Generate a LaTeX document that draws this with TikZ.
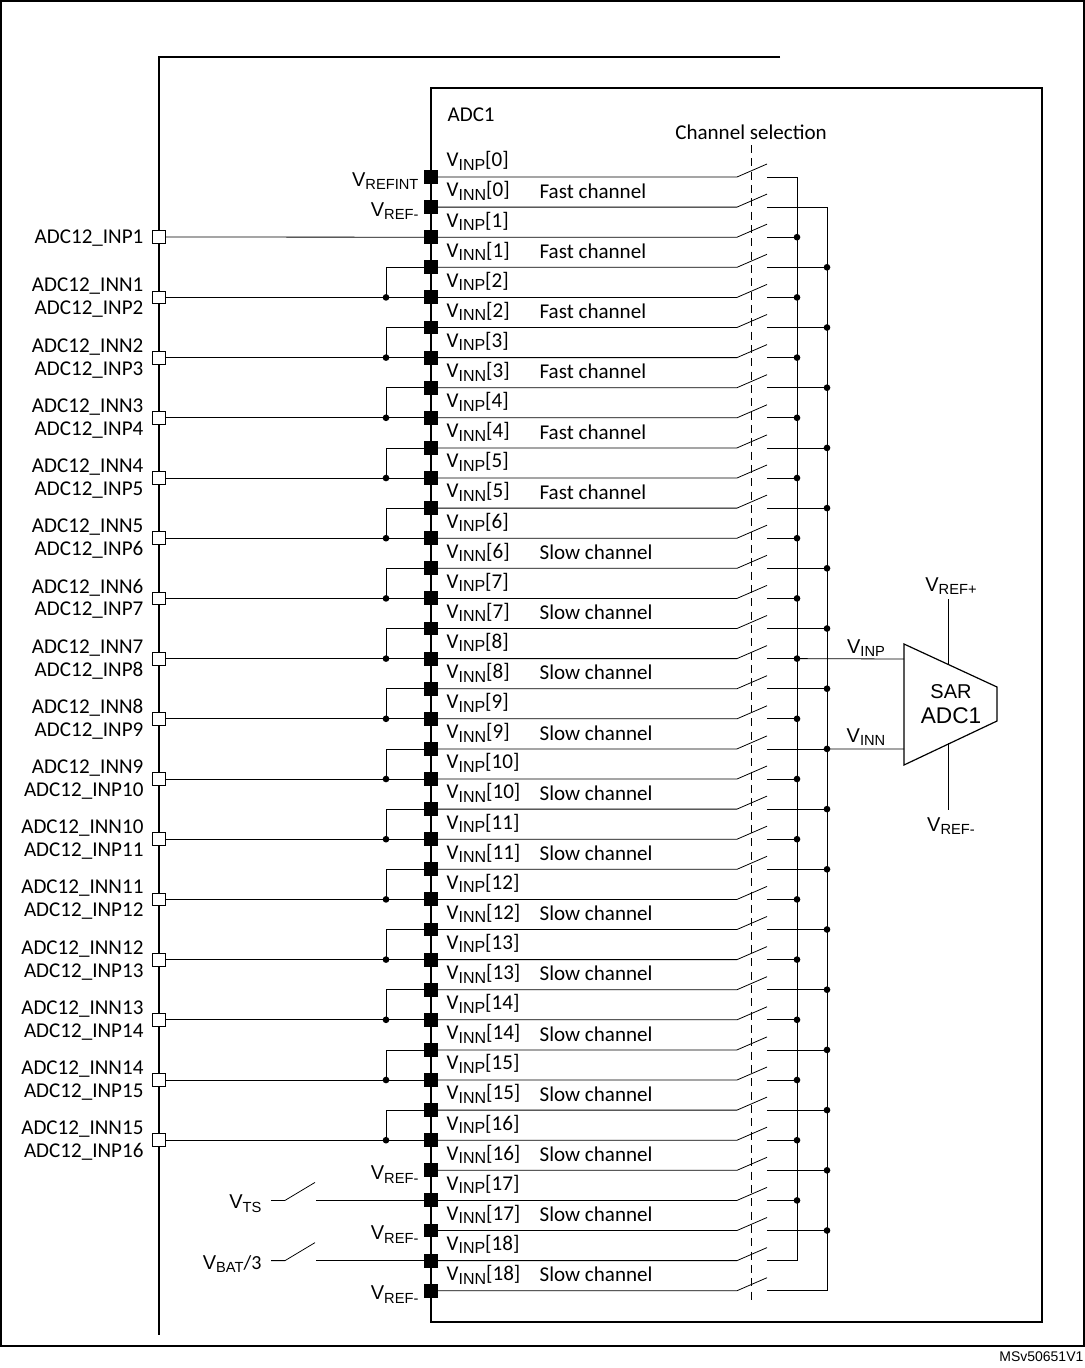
\documentclass[tikz,border=0pt]{standalone}
\usepackage{fontspec}
\setmainfont{Carlito}
\newfontfamily\arialf{Liberation Sans}
\newcommand{\Vs}[1]{V\raisebox{-0.35ex}{\fontsize{12}{12}\selectfont\arialf #1}}
\newcommand{\Va}[1]{{\arialf V\raisebox{-0.35ex}{\fontsize{11}{11}\selectfont #1}}}
\begin{document}
\begin{tikzpicture}[x=0.75pt,y=-0.75pt,line width=0.9pt,
  lbl/.style={font=\fontsize{15.8}{17}\selectfont,inner sep=0pt},
  albl/.style={font=\fontsize{15}{17}\selectfont,inner sep=0pt},
  pinb/.style={draw,fill=black,minimum size=9.5pt,inner sep=0pt},
  pinw/.style={draw,fill=white,minimum size=9.5pt,inner sep=0pt,line width=0.6pt},
  dotc/.style={circle,fill=black,minimum size=5pt,inner sep=0pt},
  wire/.style={line width=0.6pt}]
\useasboundingbox (0,0) rectangle (1085,1368);
\draw[line width=0.8pt] (1,1) rectangle (1084,1346);
\node[font=\fontsize{10.5}{11}\selectfont\arialf,anchor=east,inner sep=0pt] (ms) at (1084,1357) {MSv50651V1};
% outer device line
\coordinate (tl) at (159,57); \coordinate (tr) at (780,57); \coordinate (bl) at (159,1335);
\draw (tr) -- (tl) -- (bl);
% ADC1 box
\draw (431,88) rectangle (1042,1322);
\node[lbl,anchor=west] (adc) at (447,115) {ADC1};
\node[lbl] (chs) at (751,132) {Channel selection};
\coordinate (ds) at (751,145); \coordinate (de) at (751,1302);
\draw[wire,dashed,dash pattern=on 6pt off 4pt] (ds) -- (de);
% rows
\foreach \k in {0,...,37}{
  \pgfmathsetmacro\y{177+30.1*\k}
  \pgfmathtruncatemacro\n{div(\k,2)}
  \pgfmathtruncatemacro\odd{mod(\k,2)}
  \coordinate (p\k) at (431,\y);
  \coordinate (s\k) at (737,\y);
  \coordinate (t\k) at (767,\y-13);
  \coordinate (o\k) at (767,\y);
  \draw[wire] (p\k) -- (s\k) -- (t\k);
  \ifnum\odd=0
    \node[lbl,anchor=west] (lab\k) at (446,\y-16) {\Vs{INP}[\n]};
    \coordinate (b\k) at (797,\y);
  \else
    \node[lbl,anchor=west] (lab\k) at (446,\y-16) {\Vs{INN}[\n]};
    \coordinate (b\k) at (827,\y);
    \ifnum\n<6 \node[lbl,anchor=west] (ch\k) at (539,\y-16) {Fast channel};
    \else \node[lbl,anchor=west] (ch\k) at (539,\y-16) {Slow channel}; \fi
  \fi
  \draw[wire] (o\k) -- (b\k);
}
% buses
\draw[wire] (b0) -- (b36);
\draw[wire] (b1) -- (b37);
\foreach \k in {2,4,...,34}{\node[dotc] (dp\k) at (b\k) {};}
\foreach \k in {3,5,...,35}{\node[dotc] (dn\k) at (b\k) {};}
% SAR
\coordinate (a1) at (904,644); \coordinate (a2) at (997,687);
\coordinate (a3) at (997,721); \coordinate (a4) at (904,765);
\draw (a1) -- (a2) -- (a3) -- (a4) -- cycle;
\node[font=\fontsize{15}{15}\selectfont\arialf,inner sep=0pt] (sar) at (951,692) {SAR};
\node[font=\fontsize{17}{17}\selectfont\arialf,inner sep=0pt] (sar2) at (951,716) {ADC1};
\draw[wire] (b16) -- (904,659);
\draw[wire] (b19) -- (904,749);
\node[albl] (vinp) at (866,648) {\Va{INP}};
\node[albl] (vinn) at (866,737) {\Va{INN}};
\coordinate (rp1) at (948,599); \coordinate (rp2) at (948,665);
\coordinate (rm1) at (948,743); \coordinate (rm2) at (948,810);
\draw[wire] (rp1) -- (rp2); \draw[wire] (rm1) -- (rm2);
\node[albl] (vrefp) at (951,586) {\Va{REF+}};
\node[albl] (vrefm) at (951,826) {\Va{REF-}};
% left pins
\coordinate (x1) at (159,237);
\draw[wire] (x1) -- (p2);
\node[pinw] (q1) at (x1) {};
\node[lbl,anchor=east] (l1) at (144,238) {ADC12\_INP1};
\foreach \k in {1,...,15}{
  \pgfmathtruncatemacro\r{2*(\k+1)}
  \pgfmathtruncatemacro\u{2*\k+1}
  \pgfmathtruncatemacro\kk{\k+1}
  \pgfmathsetmacro\y{177+30.1*\r}
  \coordinate (x\kk) at (159,\y);
  \coordinate (j\kk) at (386,\y);
  \draw[wire] (x\kk) -- (p\r);
  \draw[wire] (j\kk) |- (p\u);
  \node[dotc] (jd\kk) at (j\kk) {};
  \node[pinw] (q\kk) at (x\kk) {};
  \node[lbl,anchor=east] (ln\k) at (144,\y-11) {ADC12\_INN\k};
  \node[lbl,anchor=east] (lp\kk) at (144,\y+12) {ADC12\_INP\kk};
}
% VTS and VBAT
\node[albl,anchor=east] (vts) at (262,1204) {\Va{TS}};
\node[albl,anchor=east] (vbat) at (262,1264) {\Va{BAT}/3};
\foreach \r/\nm in {34/ts,36/bat}{
  \pgfmathsetmacro\y{177+30.1*\r}
  \coordinate (\nm a) at (271,\y); \coordinate (\nm b) at (285,\y);
  \coordinate (\nm c) at (315,\y-18); \coordinate (\nm d) at (316,\y);
  \draw[wire] (\nm a) -- (\nm b) -- (\nm c);
  \draw[wire] (\nm d) -- (p\r);
}
% pin labels
\node[albl,anchor=east] (vri) at (419,181) {\Va{REFINT}};
\foreach \r in {1,33,35,37}{
  \pgfmathsetmacro\y{177+30.1*\r+4}
  \node[albl,anchor=east] (vrl\r) at (419,\y) {\Va{REF-}};
}
% black pins
\foreach \k in {0,...,37}{\node[pinb] (P\k) at (p\k) {};}
\end{tikzpicture}
\end{document}
